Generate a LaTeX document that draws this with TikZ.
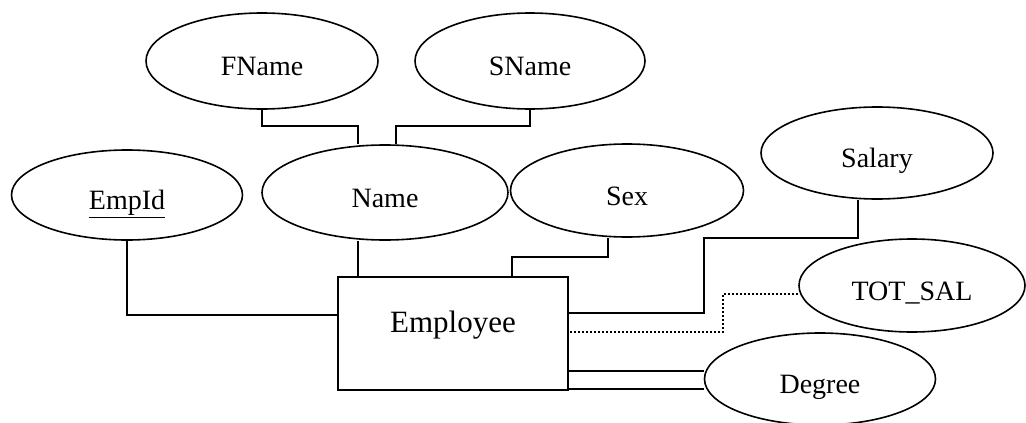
\documentclass[tikz,border=0pt]{standalone}
\usepackage{fontspec}
\setmainfont{Liberation Serif}
\usetikzlibrary{shapes.geometric}
\begin{document}
\begin{tikzpicture}[x=1pt,y=-1pt,line width=1.6pt,
  attr/.style={draw,ellipse,inner sep=0pt,font=\fontsize{28}{30}\selectfont,
    text height=29pt,text depth=0pt},
  entity/.style={draw,rectangle,inner sep=0pt,font=\fontsize{31}{34}\selectfont,
    text height=21pt,text depth=24pt},
  derived/.style={line width=2.2pt,dash pattern=on 2pt off 2pt}]
\useasboundingbox (0,0) rectangle (1026,423);

% attributes
\node[attr,minimum width=232pt,minimum height=96pt] (fname) at (262,61) {FName};
\node[attr,minimum width=230pt,minimum height=96pt] (sname) at (530,61) {SName};
\node[attr,minimum width=231pt,minimum height=90pt] (empid) at (127,195) {\underline{EmpId}};
\node[attr,minimum width=246pt,minimum height=95pt] (name) at (385,192.5) {Name};
\node[attr,minimum width=233pt,minimum height=93pt] (sex) at (627,190.5) {Sex};
\node[attr,minimum width=232pt,minimum height=92pt] (salary) at (877,153) {Salary};
\node[attr,minimum width=226pt,minimum height=93pt] (tot) at (912,285.5) {TOT\_SAL};
\node[attr,minimum width=231pt,minimum height=92pt] (degree) at (820,379) {Degree};

% entity
\node[entity,minimum width=230pt,minimum height=113pt] (emp) at (453,333.5) {Employee};

% bend points
\coordinate (fa) at (358,126);
\coordinate (sa) at (396,126);
\coordinate (na) at (358,0);
\coordinate (ea) at (128,315);
\coordinate (sx) at (608,257);
\coordinate (sy) at (512,257);
\coordinate (s1) at (858,238);
\coordinate (s2) at (704,238);
\coordinate (s3) at (704,313);
\coordinate (t1) at (723,294);
\coordinate (t2) at (723,332);
\coordinate (d1) at (0,371);
\coordinate (d2) at (0,389);

% composite attribute parts
\draw (fname.south) |- (fa) -- (fa |- name.north);
\draw (sname.south) |- (sa) -- (sa |- name.north);

% attributes to entity
\draw (na |- name.south) -- (na |- emp.north);
\draw (empid.south) |- (emp.west |- ea);
\draw (sx |- sex.south) -- (sx) -- (sy) -- (sy |- emp.north);
\draw (s1 |- salary.south) -- (s1) -- (s2) -- (s3) -- (emp.east |- s3);
\draw[derived] (tot.west |- t1) -- (t1) -- (t2) -- (emp.east |- t2);
\draw (emp.east |- d1) -- (degree.west |- d1);
\draw (emp.east |- d2) -- (degree.west |- d2);
\end{tikzpicture}
\end{document}
